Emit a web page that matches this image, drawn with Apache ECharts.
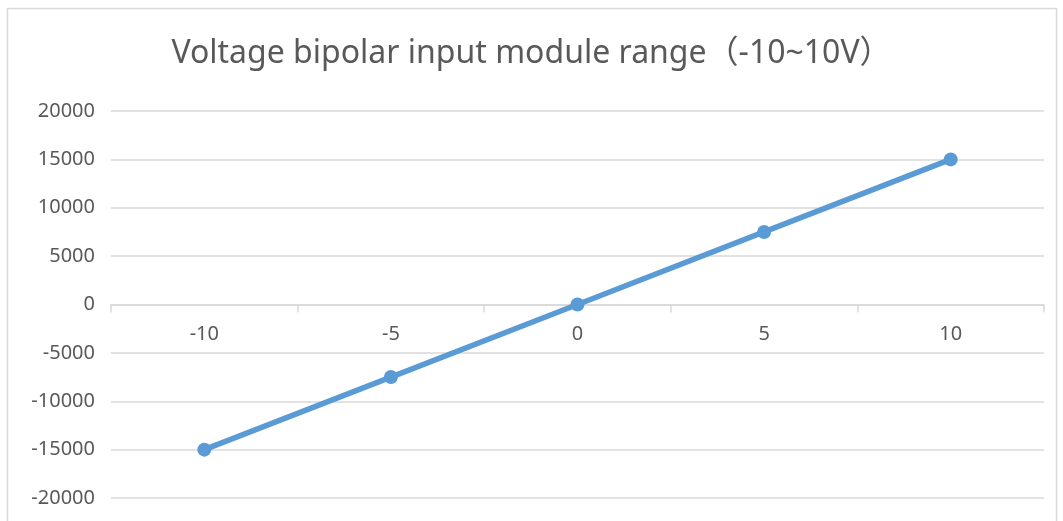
<!DOCTYPE html>
<html>
<head>
<meta charset="utf-8">
<script src="https://cdn.jsdelivr.net/npm/echarts@6/dist/echarts.min.js"></script>
<style>
  html, body { margin: 0; padding: 0; background: #fff; }
  #chart { width: 1063px; height: 521px; }
</style>
</head>
<body>
<div id="chart"></div>
<script>
const titleText = 'Voltage bipolar input module range（-10~10V）';
const voltages = ['-10', '-5', '0', '5', '10'];
const codes = [-15000, -7500, 0, 7500, 15000];

const textColor = '#595959';
const gridColor = '#d9d9d9';
const fontFamily = '"Noto Sans", "Noto Sans CJK SC", sans-serif';

const gridTop = 111, gridBottom = 23, chartH = 521;
// x axis sits on the zero line, halfway down the plot
const zeroOffset = -(chartH - gridTop - gridBottom) / 2;

const chart = echarts.init(document.getElementById('chart'), null, { renderer: 'canvas' });

chart.setOption({
    backgroundColor: '#fff',
    animation: false,
    title: {
        text: titleText,
        left: 'center',
        top: 33,
        textStyle: { color: textColor, fontSize: 32, fontWeight: 'normal', fontFamily: fontFamily }
    },
    graphic: [{
        type: 'rect',
        shape: { x: 7.5, y: 8.5, width: 1049, height: 540 },
        style: { fill: 'none', stroke: gridColor, lineWidth: 1.5 },
        silent: true
    }],
    grid: { left: 111, right: 19, top: gridTop, bottom: gridBottom, outerBoundsMode: 'none' },
    xAxis: {
        type: 'category',
        data: voltages,
        boundaryGap: true,
        offset: zeroOffset,
        axisLine: { onZero: false, lineStyle: { color: gridColor, width: 1.5 } },
        axisTick: { show: true, length: 8, lineStyle: { color: gridColor, width: 1.5 } },
        axisLabel: { color: textColor, fontSize: 20, margin: 20, fontFamily: fontFamily },
        splitLine: { show: false }
    },
    yAxis: {
        type: 'value',
        min: -20000,
        max: 20000,
        interval: 5000,
        axisLine: { show: false },
        axisTick: { show: false },
        axisLabel: {
            color: textColor, fontSize: 20, margin: 16, fontFamily: fontFamily,
            formatter: v => String(v)
        },
        splitLine: { lineStyle: { color: gridColor, width: 1.5 } }
    },
    series: [{
        type: 'line',
        data: codes,
        symbol: 'circle',
        symbolSize: 14,
        lineStyle: { color: '#5b9bd5', width: 5.5 },
        itemStyle: { color: '#5b9bd5' }
    }]
});
</script>
</body>
</html>
